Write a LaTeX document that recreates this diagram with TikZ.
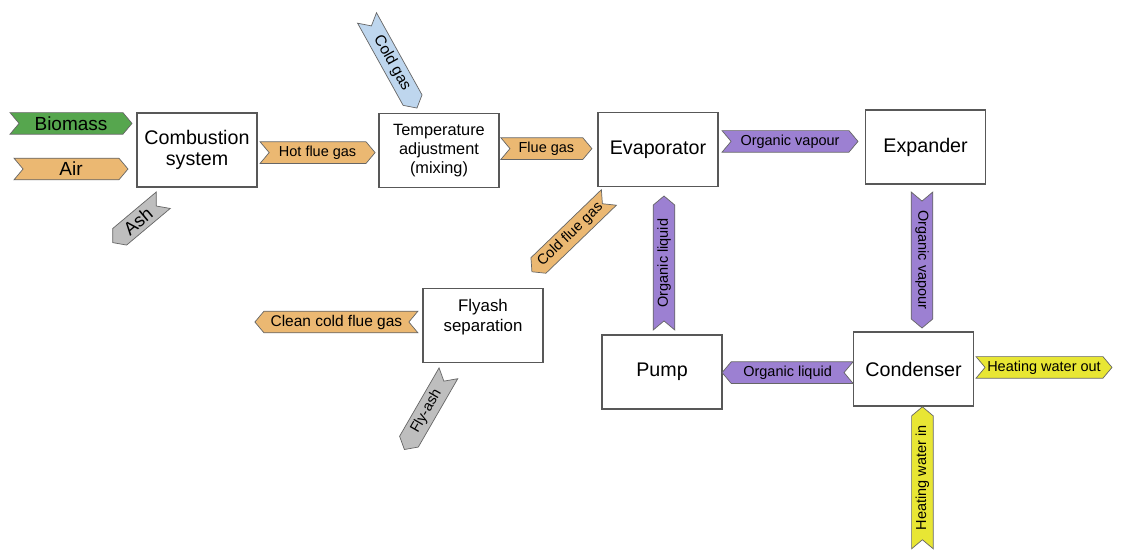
\documentclass[tikz,border=0pt]{standalone}
\usepackage{fontspec}
\setmainfont{Liberation Sans}
\usetikzlibrary{shapes.symbols}
\definecolor{boxline}{RGB}{88,88,88}
\definecolor{fuelgreen}{RGB}{86,166,78}
\definecolor{gasorange}{RGB}{235,184,114}
\definecolor{coldblue}{RGB}{190,214,238}
\definecolor{ashgrey}{RGB}{190,190,190}
\definecolor{orcviolet}{RGB}{156,128,210}
\definecolor{wateryellow}{RGB}{232,230,52}
\tikzset{
  unit/.style={draw=boxline,line width=0.9pt,fill=white,minimum width=30mm,minimum height=18.5mm,
               inner sep=2pt,align=center,font=\fontsize{14}{15.5}\selectfont},
  stream/.style={signal,draw=black!60,line width=0.5pt,signal pointer angle=100,
                 minimum height=5.4mm,inner sep=1pt,font=\fontsize{10.3}{12}\selectfont},
  fwd/.style={stream,signal to=east,signal from=west},
  back/.style={stream,signal to=west,signal from=east},
  fuel/.style={fill=fuelgreen},
  hotgas/.style={fill=gasorange},
  coldgas/.style={fill=coldblue},
  solids/.style={fill=ashgrey},
  organic/.style={fill=orcviolet},
  water/.style={fill=wateryellow},
}
\begin{document}
\begin{tikzpicture}[x=1cm,y=1cm]
  \path[use as bounding box,fill=white] (0,0) rectangle (28.15,13.725);

  % process units
  \node[unit] (comb) at (4.925,9.975) {Combustion\\system};
  \node[unit,font=\fontsize{11.6}{13.5}\selectfont] (mix) at (10.975,9.96)
    {Temperature\\adjustment\\(mixing)};
  \node[unit] (evap) at (16.45,9.99) {Evaporator};
  \node[unit] (expd) at (23.14,10.05) {Expander};
  \node[unit,font=\fontsize{12}{14}\selectfont] (fly) at (12.075,5.59)
    {Flyash\\separation\\\mbox{}};
  \node[unit] (pump) at (16.55,4.425) {Pump};
  \node[unit] (cond) at (22.84,4.5) {Condenser};

  % flue gas side
  \node[fwd,fuel,minimum width=30.5mm,font=\fontsize{13.5}{15}\selectfont] (bio) at (1.775,10.64) {Biomass};
  \node[fwd,hotgas,minimum width=28.5mm,font=\fontsize{13.5}{15}\selectfont] (air) at (1.775,9.5) {Air};
  \node[back,solids,rotate=40,minimum width=16.5mm,font=\fontsize{13}{15}\selectfont] (ash) at (3.45,8.19) {Ash};
  \node[fwd,hotgas,minimum width=28.75mm] (hot) at (7.94,9.91) {Hot flue gas};
  \node[fwd,coldgas,rotate=-61,minimum width=25.75mm,font=\fontsize{11}{13}\selectfont] (cold) at (9.8,12.15) {Cold gas};
  \node[fwd,hotgas,minimum width=22.75mm] (flue) at (13.66,10.01) {Flue gas};
  \node[back,hotgas,rotate=44,minimum width=26.75mm] (coldflue) at (14.26,7.86) {Cold flue gas};
  \node[back,hotgas,minimum width=40.75mm,font=\fontsize{11}{13}\selectfont] (clean) at (8.41,5.675) {Clean cold flue gas};
  \node[back,solids,rotate=60,minimum width=22mm] (flyash) at (10.66,3.44) {Fly-ash};

  % organic cycle
  \node[fwd,organic,minimum width=34mm] (vap1) at (19.75,10.19) {Organic vapour};
  \node[fwd,organic,rotate=-90,minimum width=34mm] (vap2) at (23.05,7.225) {Organic vapour};
  \node[back,organic,minimum width=32.75mm] (liq2) at (19.69,4.41) {Organic liquid};
  \node[fwd,organic,rotate=90,minimum width=33.5mm] (liq1) at (16.6,7.15) {Organic liquid};

  % heating water
  \node[fwd,water,minimum width=34mm] (hwout) at (26.1,4.54) {Heating water out};
  \node[fwd,water,rotate=90,minimum width=35.5mm] (hwin) at (23.06,1.78) {Heating water in};
\end{tikzpicture}
\end{document}
